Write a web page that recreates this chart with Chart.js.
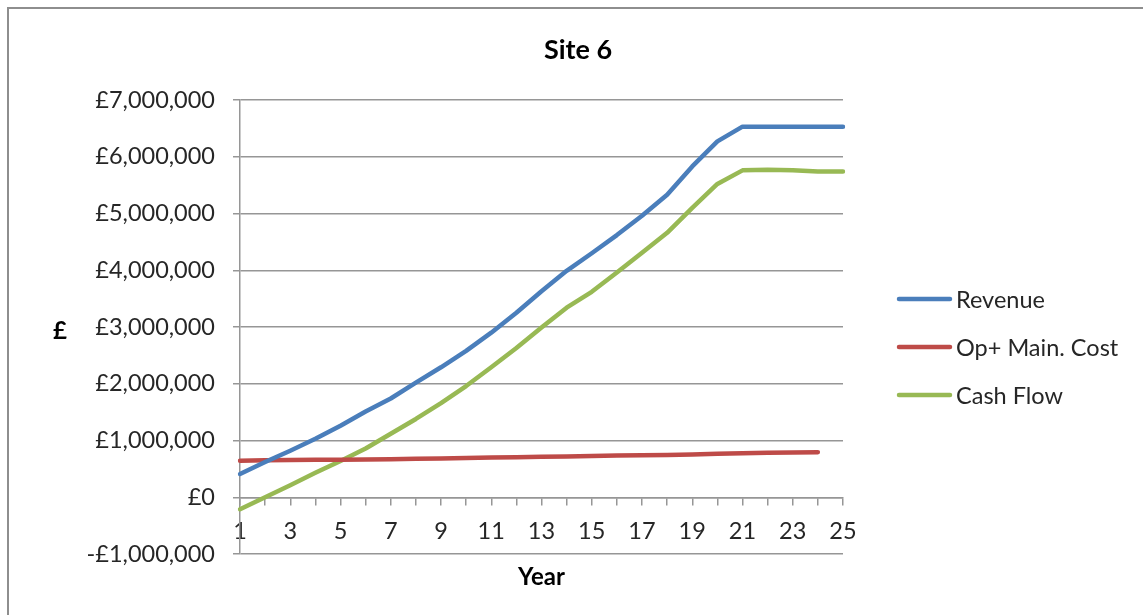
<!DOCTYPE html>
<html>
<head>
<meta charset="utf-8">
<title>Site 6</title>
<script src="https://cdn.jsdelivr.net/npm/chart.js@4/dist/chart.umd.min.js"></script>
<style>
  html, body { margin: 0; padding: 0; background: #fff; overflow: hidden; }
  #wrap { position: relative; width: 1143px; height: 615px; }
  #frame { position: absolute; left: 7px; top: 7px; width: 1200px; height: 700px;
           border-left: 2px solid #8e8e8e; border-top: 2px solid #8e8e8e; }
  canvas { position: absolute; left: 0; top: 0; }
</style>
</head>
<body>
<div id="wrap">
  <div id="frame"></div>
  <canvas id="chart" width="1143" height="615"></canvas>
</div>
<script>
// Project years
const years = [1, 2, 3, 4, 5, 6, 7, 8, 9, 10, 11, 12, 13, 14, 15, 16, 17, 18, 19, 20, 21, 22, 23, 24, 25];

// Annual figures in pounds
const revenue = [410000, 620000, 820000, 1030000, 1260000, 1510000, 1740000, 2020000, 2290000, 2580000,
                 2900000, 3250000, 3630000, 3990000, 4300000, 4620000, 4960000, 5330000, 5830000, 6270000,
                 6530000, 6530000, 6530000, 6530000, 6530000];
const opMainCost = [645000, 650000, 655000, 660000, 660000, 665000, 670000, 680000, 685000, 690000,
                    700000, 705000, 715000, 720000, 725000, 735000, 740000, 745000, 755000, 765000,
                    775000, 785000, 790000, 795000, null];
const cashFlow = [-210000, 0, 210000, 430000, 640000, 860000, 1120000, 1380000, 1660000, 1960000,
                  2290000, 2630000, 2990000, 3340000, 3620000, 3960000, 4310000, 4660000, 5100000, 5520000,
                  5760000, 5770000, 5760000, 5740000, 5740000];

const seriesNames = ['Revenue', 'Op+ Main. Cost', 'Cash Flow'];
const seriesColors = ['#4a7ebb', '#be4b48', '#98b954'];

// Value axis range
const yMin = -1000000;
const yMax = 7000000;
const yStep = 1000000;

const chartTitle = 'Site 6';
const xTitle = 'Year';
const yTitle = '£';

const FONT = 'Lato, "Liberation Sans", sans-serif';
const GRID = '#969696';
const TEXT = '#262626';

function pounds(v) {
  const s = '£' + Math.abs(v).toLocaleString('en-GB');
  return v < 0 ? '-' + s : s;
}

// Chart title, axis titles and the legend on the right
const extras = {
  id: 'extras',
  afterDraw(chart) {
    const { ctx, chartArea } = chart;
    ctx.save();
    ctx.fillStyle = '#000';
    ctx.textAlign = 'center';
    ctx.textBaseline = 'middle';
    ctx.font = `bold 27px ${FONT}`;
    ctx.fillText(chartTitle, 578, 50);
    ctx.font = `bold 24px ${FONT}`;
    ctx.fillText(xTitle, (chartArea.left + chartArea.right) / 2, 577);
    ctx.fillText(yTitle, 60, (chartArea.top + chartArea.bottom) / 2 + 4);

    const lx = chartArea.right + 56;
    const ly = 299;
    ctx.font = `23.5px ${FONT}`;
    ctx.textAlign = 'left';
    chart.data.datasets.forEach((ds, i) => {
      const y = ly + i * 48;
      ctx.strokeStyle = ds.borderColor;
      ctx.lineWidth = 4.5;
      ctx.lineCap = 'round';
      ctx.beginPath();
      ctx.moveTo(lx, y);
      ctx.lineTo(lx + 51, y);
      ctx.stroke();
      ctx.fillStyle = TEXT;
      ctx.fillText(ds.label, lx + 57, y + 1);
    });
    ctx.restore();
  }
};

const series = [revenue, opMainCost, cashFlow];

new Chart(document.getElementById('chart'), {
  type: 'line',
  data: {
    labels: years,
    datasets: series.map((d, i) => ({
      label: seriesNames[i],
      data: d,
      borderColor: seriesColors[i],
      backgroundColor: seriesColors[i],
      borderWidth: 4.5,
      borderCapStyle: 'round',
      borderJoinStyle: 'round',
      pointRadius: 0,
      tension: 0,
      spanGaps: false
    }))
  },
  options: {
    responsive: false,
    animation: false,
    events: [],
    layout: { padding: { left: 20, right: 300, top: 100, bottom: 61 } },
    plugins: {
      legend: { display: false },
      tooltip: { enabled: false },
      title: { display: false }
    },
    scales: {
      x: {
        type: 'category',
        position: { y: 0 },
        offset: false,
        grid: { drawOnChartArea: false, drawTicks: true, tickLength: 7, color: GRID, lineWidth: 1.5 },
        border: { display: true, color: GRID, width: 1.5 },
        ticks: {
          autoSkip: false,
          maxRotation: 0,
          padding: 13,
          color: TEXT,
          font: { family: FONT, size: 23.5 },
          callback: (v, i) => (i % 2 === 0 ? String(years[i]) : '')
        }
      },
      y: {
        min: yMin,
        max: yMax,
        afterFit: (s) => { s.width = 220; },
        grid: { color: GRID, lineWidth: 1.5, tickLength: 7 },
        border: { display: true, color: GRID, width: 1.5 },
        ticks: {
          stepSize: yStep,
          padding: 18,
          color: TEXT,
          font: { family: FONT, size: 23.5 },
          callback: (v) => pounds(v)
        }
      }
    }
  },
  plugins: [extras]
});
</script>
</body>
</html>
